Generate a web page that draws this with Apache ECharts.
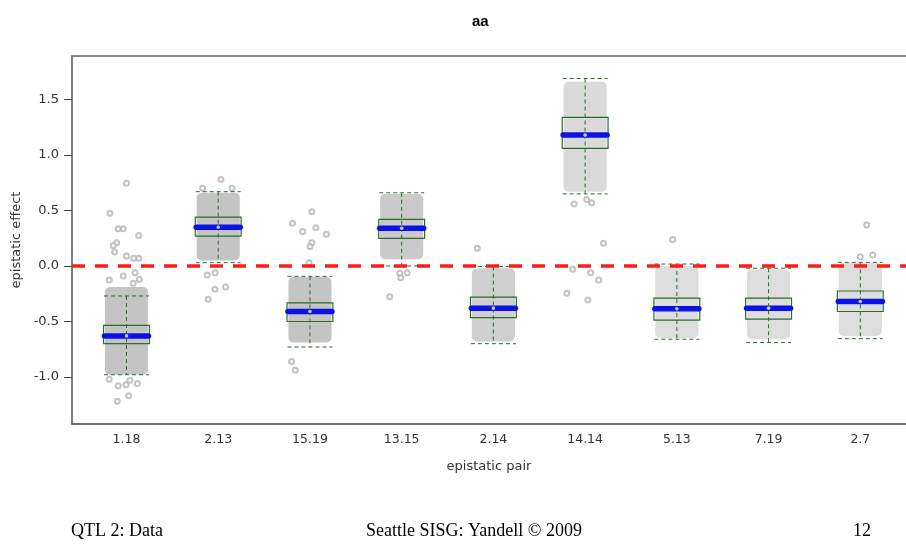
<!DOCTYPE html>
<html>
<head>
<meta charset="utf-8">
<script src="https://cdn.jsdelivr.net/npm/echarts@6/dist/echarts.min.js"></script>
<style>
html,body{margin:0;padding:0;background:#fff;}
#chart{width:906px;height:546px;}
</style>
</head>
<body>
<div id="chart"></div>
<script>
// ---- data ----
const categories = ['1.18','2.13','15.19','13.15','2.14','14.14','5.13','7.19','2.7'];
const positions  = [1,2,3,4,5,6,7,8,9];
const whiskerLow  = [-0.98, 0.03, -0.73, 0.00, -0.70, 0.65, -0.66, -0.69, -0.655];
const q1          = [-0.70, 0.27, -0.50, 0.25, -0.466, 1.06, -0.487, -0.478, -0.41];
const median      = [-0.63, 0.35, -0.41, 0.34, -0.38, 1.18, -0.385, -0.38, -0.32];
const q3          = [-0.535, 0.44, -0.333, 0.42, -0.28, 1.34, -0.29, -0.29, -0.225];
const whiskerHigh = [-0.27, 0.67, -0.093, 0.66, -0.005, 1.69, 0.018, -0.02, 0.033];
// extent of the dense jittered point cloud and its approximate sample count
const cloudHigh = [-0.19, 0.66, -0.10, 0.65, -0.02, 1.66, 0.00, -0.03, 0.03];
const cloudLow  = [-0.98, 0.05, -0.69, 0.06, -0.68, 0.67, -0.65, -0.66, -0.63];
const cloudN    = [3000, 2000, 1500, 1000, 800, 300, 200, 200, 200];
// sparse points outside the dense clouds: [jittered x, effect]
const outliers = [
  [1.00,0.745],[0.82,0.475],[0.91,0.336],[0.965,0.336],[1.133,0.276],[0.893,0.21],[0.856,0.186],
  [0.871,0.126],[1.00,0.09],[1.133,0.07],[1.078,0.07],[1.093,-0.06],[0.965,-0.09],[1.14,-0.12],
  [0.812,-0.126],[1.074,-0.156],[0.812,-1.02],[0.91,-1.08],[0.995,-1.07],[1.038,-1.03],
  [1.118,-1.06],[1.024,-1.17],[0.90,-1.22],
  [2.03,0.78],[1.83,0.70],[2.15,0.70],[1.88,-0.08],[1.965,-0.06],[1.965,-0.21],[2.08,-0.19],[1.89,-0.30],
  [3.02,0.49],[2.81,0.385],[2.92,0.31],[3.065,0.345],[3.18,0.286],[3.02,0.21],[3.00,0.177],[2.99,0.03],
  [2.80,-0.86],[2.84,-0.94],
  [3.98,-0.066],[4.06,-0.06],[3.99,-0.105],[3.87,-0.277],
  [4.824,0.16],
  [5.864,-0.03],[6.06,-0.06],[6.148,-0.126],[5.80,-0.246],[6.03,-0.306],[6.20,0.205],
  [5.88,0.56],[6.017,0.60],[6.07,0.57],
  [6.954,0.24],
  [9.07,0.37],[9.00,0.084],[9.135,0.10]
];
const yTicks = [-1.0,-0.5,0.0,0.5,1.0,1.5];
const refLine = 0;

// ---- styling constants ----
const GREEN = '#2d6a2d', BLUE = '#0a12e8', GRAY = '#c4c4c4';
const BOX_HW = 0.25, CAP_HW = 0.245, CLOUD_HW = 0.235;
const FONT = 'DejaVu Sans';

const boxData = positions.map((p,i)=>[p, whiskerLow[i], q1[i], median[i], q3[i], whiskerHigh[i]]);
const cloudData = positions.map((p,i)=>[p, cloudLow[i], cloudHigh[i], cloudN[i]]);

function renderCloud(params, api){
  const x = api.value(0), lo = api.value(1), hi = api.value(2), n = api.value(3);
  const a = api.coord([x-CLOUD_HW, hi]), b = api.coord([x+CLOUD_HW, lo]);
  return {type:'rect', shape:{x:a[0], y:a[1], width:b[0]-a[0], height:b[1]-a[1], r:5},
    style:{fill:GRAY, opacity:Math.min(1, 0.5 + n/2500)}};
}
function renderBox(params, api){
  const x = api.value(0), lo = api.value(1), a1 = api.value(2), md = api.value(3), a3 = api.value(4), hi = api.value(5);
  const top = api.coord([x, hi]), bot = api.coord([x, lo]);
  const cl1 = api.coord([x-CAP_HW, hi]), cr1 = api.coord([x+CAP_HW, hi]);
  const cl2 = api.coord([x-CAP_HW, lo]), cr2 = api.coord([x+CAP_HW, lo]);
  const bl = api.coord([x-BOX_HW, a3]), br = api.coord([x+BOX_HW, a1]);
  const ml = api.coord([x-BOX_HW+0.01, md]), mr = api.coord([x+BOX_HW-0.01, md]);
  const mc = api.coord([x, md]);
  const dash = {stroke:GREEN, lineWidth:1, lineDash:[4,3]};
  return {type:'group', children:[
    {type:'line', shape:{x1:top[0],y1:top[1],x2:bot[0],y2:bot[1]}, style:dash},
    {type:'line', shape:{x1:cl1[0],y1:cl1[1],x2:cr1[0],y2:cr1[1]}, style:dash},
    {type:'line', shape:{x1:cl2[0],y1:cl2[1],x2:cr2[0],y2:cr2[1]}, style:dash},
    {type:'rect', shape:{x:bl[0], y:bl[1], width:br[0]-bl[0], height:br[1]-bl[1]},
      style:{fill:'none', stroke:GREEN, lineWidth:1.2}},
    {type:'line', shape:{x1:ml[0],y1:ml[1],x2:mr[0],y2:mr[1]},
      style:{stroke:BLUE, lineWidth:5.5, lineCap:'round'}},
    {type:'circle', shape:{cx:mc[0], cy:mc[1], r:1.8}, style:{fill:'#c8ccff'}}
  ]};
}

const chart = echarts.init(document.getElementById('chart'), null, {renderer:'canvas'});
chart.setOption({
  animation:false,
  backgroundColor:'#fff',
  title:{text:'aa', left:467, top:9,
    textStyle:{fontFamily:'Liberation Sans', fontSize:15, fontWeight:'bold', color:'#000'}},
  grid:{left:72, right:0, top:56, bottom:122, containLabel:false},
  xAxis:[{
    type:'value', min:0.406, max:9.498, position:'bottom',
    name:'epistatic pair', nameLocation:'middle', nameGap:36,
    nameTextStyle:{fontFamily:FONT, fontSize:13, color:'#333'},
    axisLine:{show:true, onZero:false, lineStyle:{color:'#444', width:1.5}},
    axisTick:{show:false},
    splitLine:{show:false},
    axisLabel:{customValues:positions, margin:9, fontFamily:FONT, fontSize:12.5, color:'#333',
      formatter:v=>categories[Math.round(v)-1] || ''}
  },{
    type:'value', min:0.406, max:9.498, position:'top',
    axisLine:{show:true, onZero:false, lineStyle:{color:'#666', width:1.5}},
    axisTick:{show:false}, axisLabel:{show:false}, splitLine:{show:false}
  }],
  yAxis:{
    type:'value', min:-1.424, max:1.893,
    name:'epistatic effect', nameLocation:'middle', nameGap:46,
    nameTextStyle:{fontFamily:FONT, fontSize:13, color:'#333'},
    axisLine:{show:true, onZero:false, lineStyle:{color:'#555', width:1.5}},
    axisTick:{show:true, customValues:yTicks, length:8, lineStyle:{color:'#444'}},
    splitLine:{show:false},
    axisLabel:{customValues:yTicks, margin:13, fontFamily:FONT, fontSize:13, color:'#333',
      formatter:v=>Number(v).toFixed(1)}
  },
  series:[
    {type:'custom', name:'cloud', renderItem:renderCloud, data:cloudData, z:1, silent:true,
      encode:{x:0, y:[1,2]}},
    {type:'scatter', name:'points', data:outliers, symbol:'emptyCircle', symbolSize:5, z:2, silent:true,
      itemStyle:{color:'#b4b4b4', borderWidth:0.8},
      markLine:{silent:true, symbol:['none','none'], label:{show:false}, z:10,
        lineStyle:{color:'#ff1a1a', width:3.5, type:[13,10]},
        data:[{yAxis:refLine}]}},
    {type:'custom', name:'box', renderItem:renderBox, data:boxData, z:3, silent:true,
      encode:{x:0, y:[1,5]}}
  ],
  graphic:[
    {type:'text', x:71, y:531, style:{text:'QTL 2: Data', font:'18px "Liberation Serif"', fill:'#000', textAlign:'left', textVerticalAlign:'middle'}},
    {type:'text', x:474, y:531, style:{text:'Seattle SISG: Yandell \u00A9 2009', font:'18px "Liberation Serif"', fill:'#000', textAlign:'center', textVerticalAlign:'middle'}},
    {type:'text', x:871, y:531, style:{text:'12', font:'18px "Liberation Serif"', fill:'#000', textAlign:'right', textVerticalAlign:'middle'}}
  ]
});
</script>
</body>
</html>
